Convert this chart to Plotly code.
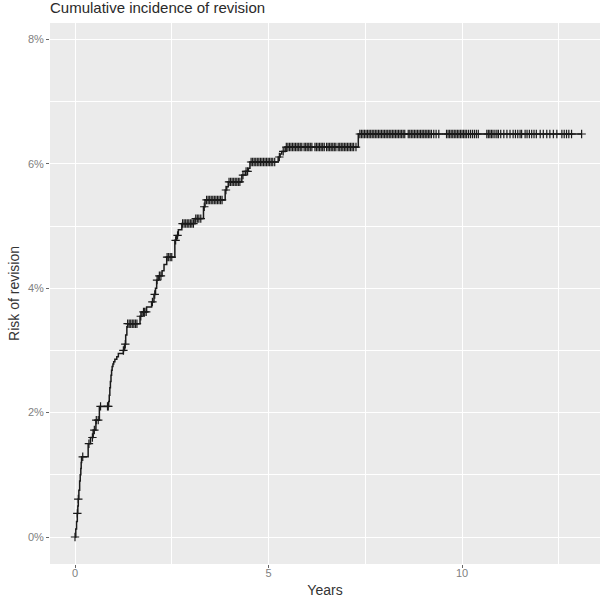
import numpy as np
import plotly.graph_objects as go

# Step function of cumulative incidence (years, percent)
event_years = [0.0, 0.02, 0.04, 0.06, 0.073, 0.085, 0.10, 0.12, 0.135, 0.15, 0.16, 0.17,
               0.34, 0.40, 0.47, 0.54, 0.63,
               0.87, 0.885, 0.90, 0.915, 0.93, 0.945, 0.96, 0.98, 1.00, 1.03, 1.08, 1.12,
               1.25, 1.28, 1.31, 1.34, 1.36,
               1.68, 1.73, 1.85, 1.98, 2.04, 2.08, 2.11, 2.15, 2.25, 2.30, 2.37,
               2.58, 2.62, 2.67, 2.76, 3.10, 3.32, 3.36, 3.88, 3.92, 3.96,
               4.31, 4.40, 4.48, 4.52, 5.25, 5.30, 5.34, 5.43, 7.32, 13.09]
event_risk = [0.0, 0.13, 0.25, 0.38, 0.50, 0.61, 0.75, 0.90, 1.00, 1.10, 1.20, 1.29,
              1.50, 1.60, 1.72, 1.88, 2.10,
              2.18, 2.28, 2.40, 2.50, 2.60, 2.68, 2.74, 2.78, 2.82, 2.86, 2.90, 2.95,
              3.00, 3.10, 3.25, 3.38, 3.43,
              3.55, 3.62, 3.70, 3.78, 3.90, 4.00, 4.13, 4.20, 4.28, 4.38, 4.50,
              4.77, 4.85, 4.94, 5.04, 5.12, 5.31, 5.42, 5.58, 5.63, 5.71,
              5.82, 5.88, 5.93, 6.03, 6.11, 6.16, 6.20, 6.27, 6.48, 6.48]

# Censoring times (years)
censor_years = [
    0.0, 0.06, 0.085, 0.20, 0.36, 0.45, 0.50, 0.55, 0.60, 0.66, 0.84, 0.86,
    1.25, 1.30, 1.36, 1.40, 1.44, 1.48, 1.52, 1.56, 1.60, 1.70, 1.77, 1.80, 1.84,
    2.00, 2.06, 2.12, 2.18, 2.22, 2.38, 2.42, 2.46, 2.50, 2.60, 2.65,
    2.78, 2.82, 2.86, 2.90, 2.94, 2.98, 3.02, 3.06, 3.12, 3.16, 3.20, 3.25, 3.34,
    3.40, 3.44, 3.48, 3.52, 3.56, 3.60, 3.64, 3.68, 3.72, 3.76, 3.80, 3.90,
    3.98, 4.02, 4.06, 4.10, 4.14, 4.18, 4.22, 4.26, 4.34, 4.42, 4.46,
    4.55, 4.59, 4.63, 4.67, 4.71, 4.75, 4.79, 4.83, 4.87, 4.91, 4.95, 4.99,
    5.03, 5.07, 5.11, 5.16, 5.28, 5.38,
    5.46, 5.50, 5.54, 5.58, 5.62, 5.66, 5.70, 5.74, 5.78, 5.82, 5.86, 5.92,
    5.96, 6.00, 6.04, 6.08, 6.12, 6.20, 6.24, 6.28, 6.32, 6.36, 6.40, 6.44,
    6.50, 6.54, 6.58, 6.62, 6.66, 6.70, 6.74, 6.80, 6.84, 6.88, 6.92, 6.96,
    7.00, 7.04, 7.08, 7.12, 7.16, 7.20, 7.26,
    7.36, 7.40, 7.44, 7.48, 7.52, 7.56, 7.60, 7.64, 7.68, 7.72, 7.76, 7.80,
    7.84, 7.88, 7.92, 7.96, 8.00, 8.04, 8.08, 8.12, 8.16, 8.20, 8.24, 8.28,
    8.32, 8.36, 8.40, 8.44, 8.48, 8.52,
    8.61, 8.65, 8.69, 8.73, 8.77, 8.81, 8.85, 8.89, 8.93, 8.97, 9.01, 9.05,
    9.09, 9.13, 9.17, 9.21, 9.27, 9.33, 9.40,
    9.60, 9.64, 9.68, 9.72, 9.76, 9.80, 9.84, 9.88, 9.92, 9.96, 10.00, 10.04,
    10.08, 10.12, 10.17, 10.22, 10.27, 10.32, 10.37, 10.42,
    10.64, 10.68, 10.72, 10.76, 10.80, 10.85, 10.90, 10.94, 11.00, 11.08, 11.16,
    11.24, 11.32, 11.38, 11.44, 11.50, 11.54, 11.63, 11.68, 11.74, 11.80, 11.86, 11.92,
    12.02, 12.10, 12.19, 12.27, 12.36, 12.45, 12.58, 12.64, 12.70, 12.76, 12.83, 13.09,
]

ex = np.array(event_years)
ey = np.array(event_risk)
cx = np.array(censor_years)
cy = ey[np.searchsorted(ex, cx, side="right") - 1]

fig = go.Figure()
fig.add_trace(go.Scatter(
    x=ex, y=ey, mode="lines", line=dict(color="#1a1a1a", width=1.5, shape="hv"),
    hoverinfo="skip", showlegend=False,
))
fig.add_trace(go.Scatter(
    x=cx, y=cy, mode="markers",
    marker=dict(symbol="cross-thin", size=6, line=dict(color="#1a1a1a", width=1.2)),
    showlegend=False,
))

font_family = "Liberation Sans, Arial, Helvetica, sans-serif"
fig.update_layout(
    width=606, height=605,
    margin=dict(l=50, r=6, t=23, b=41),
    paper_bgcolor="white",
    plot_bgcolor="#EBEBEB",
    font=dict(family=font_family),
    title=dict(
        text="Cumulative incidence of revision",
        x=50 / 606, xref="container", xanchor="left",
        y=1 - 8 / 605, yref="container", yanchor="middle",
        font=dict(size=15, color="#2a2a2a", family=font_family),
    ),
    xaxis=dict(
        range=[-0.646, 13.565], tickmode="array", tickvals=[0, 5, 10],
        ticktext=["0", "5", "10"],
        showgrid=True, gridcolor="white", gridwidth=1.2, zeroline=False,
        ticks="outside", ticklen=3, tickcolor="#666666", tickwidth=1,
        tickfont=dict(size=11, color="#808080"),
        ticklabelstandoff=-4,
        minor=dict(tickmode="array", tickvals=[2.5, 7.5, 12.5], showgrid=True,
                   gridcolor="white", gridwidth=0.6, ticks=""),
        title=dict(text="Years", font=dict(size=14, color="#333333"), standoff=6),
    ),
    yaxis=dict(
        range=[-0.434, 8.265], tickmode="array", tickvals=[0, 2, 4, 6, 8],
        ticktext=["0%", "2%", "4%", "6%", "8%"],
        showgrid=True, gridcolor="white", gridwidth=1.2, zeroline=False,
        ticks="outside", ticklen=3, tickcolor="#666666", tickwidth=1,
        tickfont=dict(size=11, color="#808080"),
        minor=dict(tickmode="array", tickvals=[1, 3, 5, 7], showgrid=True,
                   gridcolor="white", gridwidth=0.6, ticks=""),
        title=dict(text="Risk of revision", font=dict(size=14, color="#333333"), standoff=4),
    ),
)

fig.write_html("out.html")
